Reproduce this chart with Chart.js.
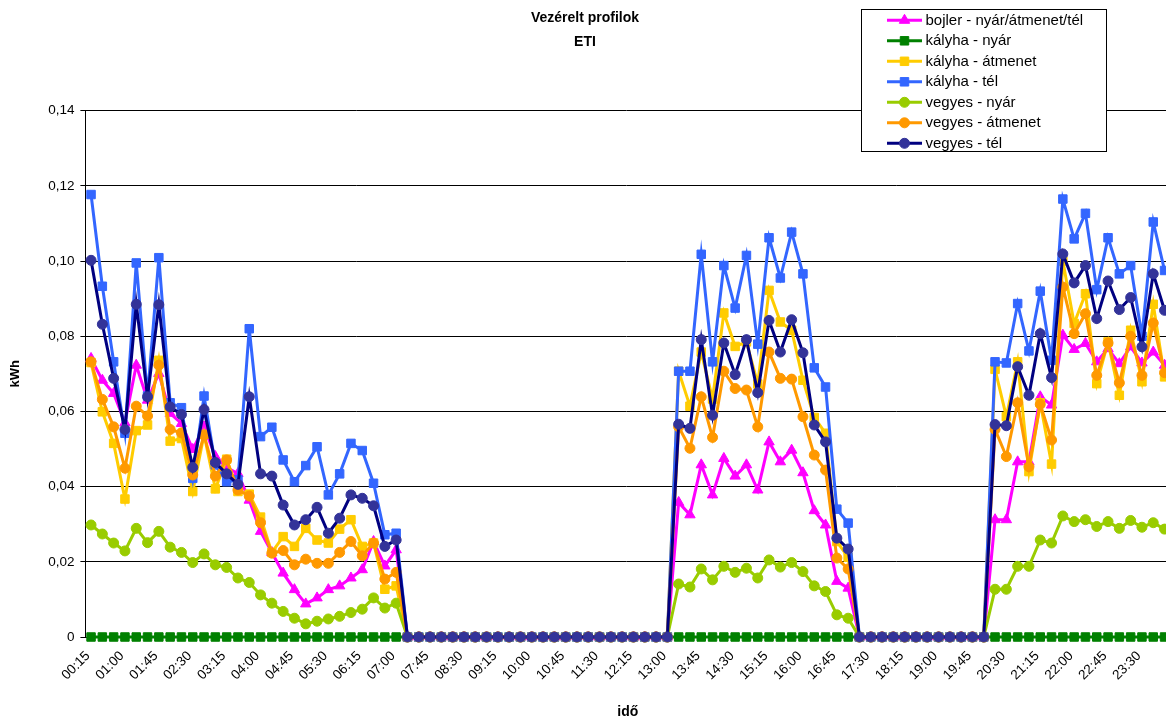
<!DOCTYPE html>
<html>
<head>
<meta charset="utf-8">
<script src="https://cdn.jsdelivr.net/npm/chart.js@4.4.1/dist/chart.umd.min.js"></script>
<style>
html,body{margin:0;padding:0;overflow:hidden;background:#fff}
#wrap{width:1166px;height:724px;position:relative}
</style>
</head>
<body>
<div id="wrap"><canvas id="c" width="1166" height="724"></canvas></div>
<script>
const timeLabels = [
'00:15','00:30','00:45','01:00','01:15','01:30','01:45','02:00','02:15','02:30','02:45','03:00',
'03:15','03:30','03:45','04:00','04:15','04:30','04:45','05:00','05:15','05:30','05:45','06:00',
'06:15','06:30','06:45','07:00','07:15','07:30','07:45','08:00','08:15','08:30','08:45','09:00',
'09:15','09:30','09:45','10:00','10:15','10:30','10:45','11:00','11:15','11:30','11:45','12:00',
'12:15','12:30','12:45','13:00','13:15','13:30','13:45','14:00','14:15','14:30','14:45','15:00',
'15:15','15:30','15:45','16:00','16:15','16:30','16:45','17:00','17:15','17:30','17:45','18:00',
'18:15','18:30','18:45','19:00','19:15','19:30','19:45','20:00','20:15','20:30','20:45','21:00',
'21:15','21:30','21:45','22:00','22:15','22:30','22:45','23:00','23:15','23:30','23:45','24:00'
];

const bojler = [
0.0741,0.0683,0.0648,0.057,0.0723,0.063,0.0701,0.0595,0.0568,0.0499,0.0559,0.048,0.0451,0.0435,0.0364,
0.0281,0.0225,0.017,0.0126,0.0088,0.0104,0.0126,0.0136,0.0157,0.0179,0.0254,0.0189,0.0232,
0,0,0,0,0,0,0,0,0,0,0,0,0,0,0,0,0,0,0,0,0,0,0,0,
0.0358,0.0325,0.0458,0.0378,0.0475,0.0428,0.0458,0.0391,0.0519,0.0466,0.0497,0.0437,0.0336,0.0298,0.0148,0.013,
0,0,0,0,0,0,0,0,0,0,0,0,
0.0312,0.0312,0.0466,0.0466,0.0639,0.0617,0.0803,0.0765,0.0781,0.0732,0.0767,0.0727,0.0772,0.0729,0.0758,0.0723
];

const kalyhaNyar = [
0,0,0,0,0,0,0,0,0,0,0,0,0,0,0,0,0,0,0,0,0,0,0,0,
0,0,0,0,0,0,0,0,0,0,0,0,0,0,0,0,0,0,0,0,0,0,0,0,
0,0,0,0,0,0,0,0,0,0,0,0,0,0,0,0,0,0,0,0,0,0,0,0,
0,0,0,0,0,0,0,0,0,0,0,0,0,0,0,0,0,0,0,0,0,0,0,0
];

const kalyhaAtmenet = [
0.073,0.0599,0.0515,0.0367,0.0549,0.0564,0.0736,0.0521,0.0528,0.0387,0.0539,0.0394,0.0473,0.0387,0.038,
0.0319,0.0225,0.0267,0.0241,0.0289,0.0258,0.025,0.0287,0.0312,0.0241,0.025,0.0127,0.0136,
0,0,0,0,0,0,0,0,0,0,0,0,0,0,0,0,0,0,0,0,0,0,0,0,
0.0707,0.0614,0.0758,0.0633,0.0862,0.0773,0.0785,0.0673,0.0922,0.0838,0.0816,0.0683,0.0584,0.0542,0.0254,0.0212,
0,0,0,0,0,0,0,0,0,0,0,0,
0.0712,0.0586,0.0732,0.044,0.0623,0.046,0.1,0.0834,0.0913,0.0674,0.0785,0.0643,0.0816,0.0679,0.0885,0.0692
];

const kalyhaTel = [
0.1177,0.0933,0.0732,0.0542,0.0995,0.0641,0.1009,0.0623,0.061,0.0422,0.0641,0.0458,0.0413,0.0418,0.082,
0.0533,0.0558,0.0471,0.0413,0.0456,0.0506,0.0378,0.0434,0.0515,0.0496,0.0409,0.0272,0.0276,
0,0,0,0,0,0,0,0,0,0,0,0,0,0,0,0,0,0,0,0,0,0,0,0,
0.0707,0.0707,0.1018,0.0732,0.0988,0.0875,0.1015,0.0779,0.1062,0.0955,0.1077,0.0966,0.0716,0.0665,0.034,0.0303,
0,0,0,0,0,0,0,0,0,0,0,0,
0.0732,0.0729,0.0887,0.0761,0.092,0.0736,0.1165,0.1059,0.1127,0.0924,0.1062,0.0966,0.0988,0.08,0.1104,0.0975
];

const vegyesNyar = [
0.0298,0.0274,0.025,0.0229,0.0289,0.0251,0.0281,0.0239,0.0225,0.0198,0.0221,0.0192,0.0185,0.0157,0.0145,
0.0112,0.009,0.0068,0.005,0.0035,0.0042,0.0048,0.0055,0.0065,0.0074,0.0104,0.0077,0.009,
0,0,0,0,0,0,0,0,0,0,0,0,0,0,0,0,0,0,0,0,0,0,0,0,
0.0141,0.0133,0.0181,0.0152,0.0188,0.0172,0.0183,0.0157,0.0205,0.0186,0.0198,0.0174,0.0136,0.0121,0.0059,0.005,
0,0,0,0,0,0,0,0,0,0,0,0,
0.0127,0.0127,0.0188,0.0188,0.0258,0.025,0.0322,0.0307,0.0312,0.0294,0.0307,0.0289,0.031,0.0292,0.0304,0.0287
];

const vegyesAtmenet = [
0.0732,0.0632,0.0559,0.0449,0.0614,0.0588,0.0723,0.0552,0.0543,0.0431,0.0537,0.0428,0.0471,0.0391,0.0375,
0.0304,0.0223,0.023,0.0192,0.0207,0.0196,0.0196,0.0225,0.0254,0.0216,0.025,0.0154,0.0172,
0,0,0,0,0,0,0,0,0,0,0,0,0,0,0,0,0,0,0,0,0,0,0,0,
0.0559,0.0502,0.0639,0.0531,0.0707,0.0661,0.0657,0.0559,0.0758,0.0688,0.0686,0.0586,0.0484,0.0444,0.021,0.0181,
0,0,0,0,0,0,0,0,0,0,0,0,
0.0552,0.048,0.0623,0.0453,0.0619,0.0524,0.0931,0.0807,0.086,0.0696,0.0782,0.0676,0.08,0.0696,0.0835,0.0703
];

const vegyesTel = [
0.1002,0.0832,0.0688,0.0552,0.0885,0.0639,0.0884,0.0612,0.0592,0.0451,0.0605,0.0464,0.0434,0.0406,0.0639,
0.0434,0.0428,0.0351,0.0298,0.0312,0.0345,0.0276,0.0316,0.0378,0.0369,0.0349,0.0241,0.0258,
0,0,0,0,0,0,0,0,0,0,0,0,0,0,0,0,0,0,0,0,0,0,0,0,
0.0566,0.0555,0.0791,0.059,0.0782,0.0698,0.0791,0.065,0.0842,0.0758,0.0844,0.0756,0.0564,0.0519,0.0263,0.0234,
0,0,0,0,0,0,0,0,0,0,0,0,
0.0565,0.0562,0.0719,0.0643,0.0807,0.069,0.1019,0.0942,0.0988,0.0847,0.0947,0.0871,0.0903,0.0772,0.0966,0.0869
];

const seriesNames = [
'bojler - nyár/átmenet/tél','kályha - nyár','kályha - átmenet','kályha - tél',
'vegyes - nyár','vegyes - átmenet','vegyes - tél'
];
const chartTitle = ['Vezérelt profilok','ETI'];
const yTitle = 'kWh';
const xTitle = 'idő';

const FONT = "'Liberation Sans', Arial, sans-serif";

const styles = [
  {line:'#FF00FF', fill:'#FF00FF', shape:'triangle', r:6},
  {line:'#008000', fill:'#008000', shape:'rect', r:6},
  {line:'#FFCC00', fill:'#FFCC00', shape:'rect', r:6},
  {line:'#3366FF', fill:'#3366FF', shape:'rect', r:6},
  {line:'#99CC00', fill:'#99CC00', shape:'circle', r:5},
  {line:'#FF9900', fill:'#FF9900', shape:'circle', r:5},
  {line:'#000080', fill:'#333399', shape:'circle', r:5}
];
const seriesData = [bojler, kalyhaNyar, kalyhaAtmenet, kalyhaTel, vegyesNyar, vegyesAtmenet, vegyesTel];

const datasets = seriesData.map((d, i) => ({
  label: seriesNames[i],
  data: d,
  borderColor: styles[i].line,
  backgroundColor: styles[i].fill,
  borderWidth: 3,
  pointStyle: styles[i].shape,
  pointRadius: styles[i].r,
  pointBackgroundColor: styles[i].fill,
  pointBorderColor: styles[i].fill,
  pointBorderWidth: 1,
  tension: 0,
  fill: false,
  clip: false,
  order: seriesData.length - i
}));

function drawMarker(ctx, shape, x, y, r, color) {
  ctx.save();
  ctx.fillStyle = color; ctx.strokeStyle = color; ctx.lineWidth = 1;
  ctx.beginPath();
  if (shape === 'circle') {
    ctx.arc(x, y, r, 0, Math.PI * 2);
  } else if (shape === 'rect') {
    const s = r * Math.SQRT1_2;
    ctx.rect(x - s, y - s, 2 * s, 2 * s);
  } else {
    ctx.moveTo(x, y - r);
    ctx.lineTo(x + r * 0.866, y + r / 2);
    ctx.lineTo(x - r * 0.866, y + r / 2);
    ctx.closePath();
  }
  ctx.fill(); ctx.stroke();
  ctx.restore();
}

// The plot area in the reference runs slightly past the right edge of the picture.
const PLOT_RIGHT = 1170.2;

const areaPlugin = {
  id: 'areaFix',
  afterLayout(chart) {
    const x = chart.scales.x;
    const a = chart.chartArea;
    a.right = PLOT_RIGHT;
    a.width = a.right - a.left;
    x.right = PLOT_RIGHT;
    x.width = x.right - x.left;
    x.configure();
  }
};

const decorPlugin = {
  id: 'decor',
  afterDraw(chart) {
    const ctx = chart.ctx;
    const area = chart.chartArea;
    ctx.save();
    ctx.fillStyle = '#000';
    ctx.textAlign = 'center';
    ctx.textBaseline = 'middle';
    ctx.font = 'bold 14px ' + FONT;
    ctx.fillText(chartTitle[0], 585, 18);
    ctx.fillText(chartTitle[1], 585, 42);
    ctx.font = 'bold 14px ' + FONT;
    ctx.fillText(xTitle, (area.left + area.right) / 2, 712);
    ctx.save();
    ctx.translate(15, (area.top + area.bottom) / 2);
    ctx.rotate(-Math.PI / 2);
    ctx.font = 'bold 13px ' + FONT;
    ctx.fillText(yTitle, 0, 0);
    ctx.restore();

    // legend
    const bx = 861.5, by = 9.5, bw = 245, bh = 142;
    ctx.fillStyle = '#fff';
    ctx.fillRect(bx, by, bw, bh);
    ctx.strokeStyle = '#000';
    ctx.lineWidth = 1;
    ctx.strokeRect(bx, by, bw, bh);
    ctx.font = '15px ' + FONT;
    ctx.textAlign = 'left';
    ctx.textBaseline = 'middle';
    for (let i = 0; i < seriesNames.length; i++) {
      const y = 20.3 + i * 20.5;
      ctx.strokeStyle = styles[i].line;
      ctx.lineWidth = 3;
      ctx.beginPath();
      ctx.moveTo(887, y); ctx.lineTo(922, y);
      ctx.stroke();
      drawMarker(ctx, styles[i].shape, 904.5, y, styles[i].r, styles[i].fill);
      ctx.fillStyle = '#000';
      ctx.fillText(seriesNames[i], 925.5, y + 0.5);
    }
    ctx.restore();
  }
};

new Chart(document.getElementById('c'), {
  type: 'line',
  data: { labels: timeLabels, datasets },
  options: {
    responsive: false,
    animation: false,
    devicePixelRatio: 1,
    layout: { padding: { top: 110.7, right: 0, bottom: 0, left: 0 } },
    plugins: { legend: { display: false }, title: { display: false }, tooltip: { enabled: false } },
    scales: {
      x: {
        type: 'category',
        offset: true,
        grid: { display: false, drawTicks: true, tickLength: 8 },
        border: { display: true, color: '#000', width: 1 },
        ticks: {
          autoSkip: false, maxRotation: 45, minRotation: 45, padding: 3, labelOffset: -3,
          color: '#000', font: { family: FONT, size: 13.5 },
          callback(v, i) { return i % 3 === 0 ? timeLabels[i] : null; }
        },
        afterFit(s) { s.height = 87; }
      },
      y: {
        min: 0, max: 0.14,
        grid: { color: '#000', lineWidth: 1, drawTicks: true, tickLength: 5 },
        border: { display: true, color: '#000', width: 1 },
        ticks: {
          stepSize: 0.02, padding: 6, color: '#000', font: { family: FONT, size: 13.5 },
          callback(v) { return v === 0 ? '0' : v.toFixed(2).replace('.', ','); }
        },
        afterFit(s) { s.width = 85.4; }
      }
    }
  },
  plugins: [areaPlugin, decorPlugin]
});
</script>
</body>
</html>
